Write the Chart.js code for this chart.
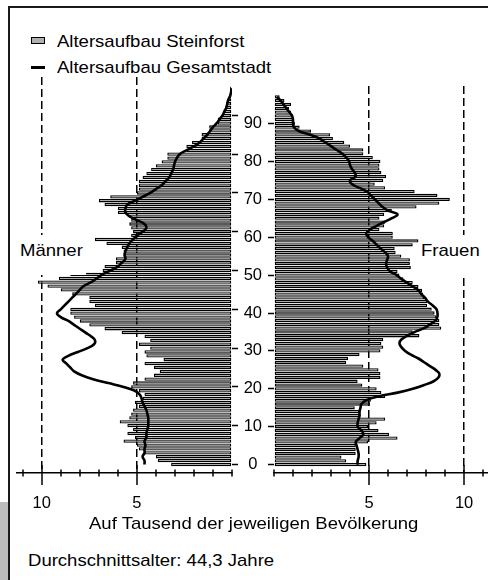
<!DOCTYPE html>
<html lang="de">
<head>
<meta charset="UTF-8" />
<title>Altersaufbau Steinforst</title>
<script src="https://cdn.jsdelivr.net/npm/chart.js"></script>
<style>
  body { margin: 0; width: 488px; height: 580px; position: relative; overflow: hidden; background: #fff;
         font-family: "Liberation Sans", Arial, sans-serif; color: #000; }
  #frame { position: absolute; left: 8px; top: 6px; width: 600px; height: 700px;
           border-top: 2px solid #1a1a1a; border-left: 2px solid #1a1a1a; }
  #tab { position: absolute; left: 0; top: 502px; width: 8px; height: 80px; background: #bdbdbd; }
  .txt { position: absolute; font-size: 17px; line-height: 20px; white-space: nowrap;
         transform: scaleX(1.09); transform-origin: left center; }
  .icon { position: absolute; }
  .side { position: absolute; top: 235px; height: 40px; background: #fff; z-index: 5; }
  .side span { display: inline-block; margin-top: 6px; font-size: 17px; line-height: 20px;
               transform: scaleX(1.09); transform-origin: left center; }
  .box { position: absolute; top: 70px; height: 453px; }
</style>
</head>
<body>
  <div id="frame"></div>
  <div id="tab"></div>

  <div class="icon" style="left:31px;top:37px;width:12px;height:5px;background:#b0b0b0;border:1px solid #000"></div>
  <div class="txt" style="left:57px;top:31.5px">Altersaufbau Steinforst</div>
  <div class="icon" style="left:31px;top:65.5px;width:14px;height:3.5px;background:#000"></div>
  <div class="txt" style="left:57px;top:57.5px">Altersaufbau Gesamtstadt</div>

  <div class="box" style="left:0;width:238px"><canvas id="chartLeft"></canvas></div>
  <div class="box" style="left:238px;width:250px"><canvas id="chartRight"></canvas></div>

  <div class="side" style="left:20px;width:66px"><span>Männer</span></div>
  <div class="side" style="left:421px;width:62px"><span>Frauen</span></div>

  <div class="txt" style="left:89px;top:514px">Auf Tausend der jeweiligen Bevölkerung</div>
  <div class="txt" style="left:28px;top:551px">Durchschnittsalter: 44,3 Jahre</div>

<script>
// Alter 0..97
const ages = Array.from({ length: 98 }, (_, i) => i);

// Männer Steinforst (auf Tausend)
const maleSteinforst = [
  3.2, 3.9, 4.0, 4.6, 4.9, 5.0, 5.7, 5.1, 5.5, 5.2,
  5.5, 5.9, 5.4, 5.3, 5.2, 4.9, 5.1, 4.7, 4.6, 4.9,
  5.3, 5.2, 4.6, 4.1, 3.8, 4.1, 4.6, 3.6, 4.5, 4.6,
  4.3, 4.9, 4.3, 4.6, 5.8, 6.7, 7.5, 8.0, 8.3, 8.5,
  8.5, 7.2, 7.5, 7.5, 8.4, 9.0, 9.7, 10.2, 9.1, 8.5,
  6.8, 6.7, 6.1, 6.1, 5.65, 5.7, 5.8, 6.6, 7.2, 5.3,
  5.2, 5.3, 5.4, 5.3, 5.4, 6.0, 6.0, 6.7, 7.0, 6.4,
  5.0, 4.9, 4.9, 4.9, 4.7, 4.5, 4.25, 4.0, 3.7, 3.4,
  3.4, 2.4, 2.4, 2.1, 1.6, 1.6, 1.2, 1.2, 0.75, 0.75,
  0.5, 0.45, 0.35, 0.3, 0.2, 0.15, 0.1, 0.1
];
// Männer Gesamtstadt
const maleCity = [
  4.6, 4.6, 4.7, 4.6, 4.6, 4.55, 4.6, 4.5, 4.5, 4.45,
  4.4, 4.4, 4.4, 4.45, 4.5, 4.6, 4.7, 4.75, 4.85, 5.1,
  5.7, 6.5, 7.3, 7.9, 8.3, 8.5, 8.7, 8.9, 8.6, 8.1,
  7.6, 7.25, 7.2, 7.4, 7.7, 8.0, 8.3, 8.6, 9.0, 9.2,
  9.0, 8.8, 8.6, 8.4, 8.2, 8.0, 7.8, 7.4, 7.1, 6.8,
  6.4, 6.0, 5.8, 5.6, 5.65, 5.6, 5.5, 5.4, 5.2, 5.0,
  4.7, 4.5, 4.6, 5.0, 5.4, 5.6, 5.6, 5.5, 5.1, 4.7,
  4.3, 4.0, 3.7, 3.5, 3.3, 3.2, 3.1, 3.05, 3.0, 2.9,
  2.75, 2.4, 2.0, 1.7, 1.5, 1.3, 1.15, 1.0, 0.8, 0.65,
  0.5, 0.4, 0.3, 0.25, 0.2, 0.1, 0.05, 0.02
];
// Frauen Steinforst
const femaleSteinforst = [
  4.86, 3.8, 3.55, 4.3, 4.3, 4.3, 4.95, 6.5, 6.05, 5.5,
  4.95, 5.4, 5.85, 4.55, 4.5, 4.25, 5.05, 5.1, 5.85, 5.65,
  5.4, 4.65, 4.4, 5.6, 5.6, 5.5, 4.7, 3.8, 3.9, 4.5,
  5.6, 5.75, 5.65, 5.75, 7.65, 7.3, 8.8, 8.7, 8.7, 8.55,
  8.45, 8.3, 8.05, 8.05, 7.9, 7.85, 7.8, 7.6, 7.3, 6.8,
  6.6, 6.5, 7.2, 7.15, 7.15, 6.7, 6.4, 6.35, 7.3, 7.6,
  6.25, 6.25, 5.55, 5.8, 5.85, 5.55, 5.8, 6.2, 7.5, 8.7,
  9.25, 8.6, 7.4, 5.85, 5.3, 5.75, 5.9, 5.65, 5.55, 5.55,
  5.6, 5.2, 4.7, 4.7, 4.0, 3.7, 3.1, 2.95, 1.95, 1.35,
  1.1, 1.0, 1.0, 0.9, 0.8, 0.9, 0.55, 0.3
];
// Frauen Gesamtstadt
const femaleCity = [
  4.4, 4.4, 4.45, 4.45, 4.4, 4.35, 4.3, 4.5, 4.7, 4.6,
  4.4, 4.4, 4.45, 4.5, 4.5, 4.55, 4.6, 4.85, 5.5, 6.5,
  7.3, 7.9, 8.4, 8.65, 8.7, 8.5, 8.2, 7.9, 7.6, 7.2,
  6.9, 6.7, 6.6, 6.7, 7.0, 7.4, 7.9, 8.2, 8.5, 8.6,
  8.6, 8.55, 8.35, 8.1, 7.95, 7.75, 7.6, 7.3, 7.0, 6.7,
  6.45, 6.1, 5.95, 5.9, 5.95, 6.0, 5.85, 5.6, 5.4, 5.2,
  4.95, 4.85, 5.05, 5.4, 5.8, 6.2, 6.5, 6.0, 5.7, 5.5,
  5.3, 5.1, 4.9, 4.5, 4.1, 4.0, 4.3, 4.25, 4.1, 4.0,
  3.95, 3.8, 3.6, 3.3, 3.0, 2.7, 2.4, 1.9, 1.3, 1.05,
  1.0, 1.0, 0.95, 0.8, 0.65, 0.5, 0.35, 0.15
];

// beschriftete x-Werte (gestrichelte Linien)
const xLabelled = [5, 10];

Chart.defaults.font.family = "'Liberation Sans', Arial, sans-serif";
Chart.defaults.font.size = 16.5;
Chart.defaults.color = "#000";

// Striche, die die x-Achse kreuzen
const crossTicks = {
    id: "crossTicks",
    afterDraw(chart) {
        const sc = chart.scales.x;
        const ctx = chart.ctx;
        const y0 = sc.top;
        ctx.save();
        ctx.strokeStyle = "#000";
        ctx.lineWidth = 1.5;
        sc.ticks.forEach((t) => {
            const px = Math.round(sc.getPixelForValue(t.value));
            const major = xLabelled.includes(t.value);
            ctx.beginPath();
            ctx.moveTo(px, y0 - (major ? 8 : 3.5));
            ctx.lineTo(px, y0 + (major ? 12 : 3.5));
            ctx.stroke();
        });
        ctx.restore();
    },
};

function makeChart(id, bars, city, side) {
    const left = side === "left";
    return new Chart(document.getElementById(id), {
        type: "bar",
        data: {
            datasets: [
                {
                    type: "line",
                    data: ages.map((a, i) => ({ x: city[i], y: a })),
                    borderColor: "#000",
                    borderWidth: 2.6,
                    pointRadius: 0,
                    pointHoverRadius: 0,
                    tension: 0.4,
                    fill: false,
                    order: 1,
                },
                {
                    type: "bar",
                    data: ages.map((a, i) => ({ x: bars[i], y: a })),
                    backgroundColor: "#a6a6a6",
                    borderColor: "#000",
                    borderWidth: 1.3,
                    borderSkipped: false,
                    barPercentage: 0.86,
                    categoryPercentage: 1,
                    order: 2,
                },
            ],
        },
        options: {
            indexAxis: "y",
            responsive: true,
            maintainAspectRatio: false,
            animation: false,
            layout: { autoPadding: false, padding: { top: 7, left: left ? 17 : 0, right: 0, bottom: 0 } },
            plugins: { legend: { display: false }, tooltip: { enabled: false } },
            scales: {
                x: {
                    type: "linear",
                    reverse: left,
                    min: 0,
                    max: left ? 11.3 : 11.26,
                    ticks: {
                        stepSize: 1,
                        includeBounds: false,
                        autoSkip: false,
                        maxRotation: 0,
                        padding: 0,
                        callback: (v) => (xLabelled.includes(v) ? String(v) : ""),
                    },
                    grid: {
                        drawTicks: true,
                        tickLength: 21,
                        tickColor: "transparent",
                        lineWidth: 1.5,
                        color: (c) => (c.tick && xLabelled.includes(c.tick.value) ? "#000" : "transparent"),
                    },
                    border: { display: true, color: "#000", width: 1.5, dash: [8, 4] },
                    afterFit: (s) => { s.height = 50; },
                },
                y: {
                    type: "linear",
                    position: left ? "right" : "left",
                    offset: false,
                    min: -2.2,
                    max: 99.9,
                    ticks: {
                        display: !left,
                        stepSize: 10,
                        includeBounds: false,
                        crossAlign: "center",
                        padding: 6,
                    },
                    grid: {
                        offset: false,
                        drawOnChartArea: false,
                        drawTicks: true,
                        tickLength: 6,
                        tickWidth: 1.5,
                        tickColor: "#000",
                    },
                    border: { display: false },
                    afterFit: (s) => { s.width = left ? 6 : 36; },
                },
            },
        },
        plugins: [crossTicks],
    });
}

makeChart("chartLeft", maleSteinforst, maleCity, "left");
makeChart("chartRight", femaleSteinforst, femaleCity, "right");
</script>
</body>
</html>
